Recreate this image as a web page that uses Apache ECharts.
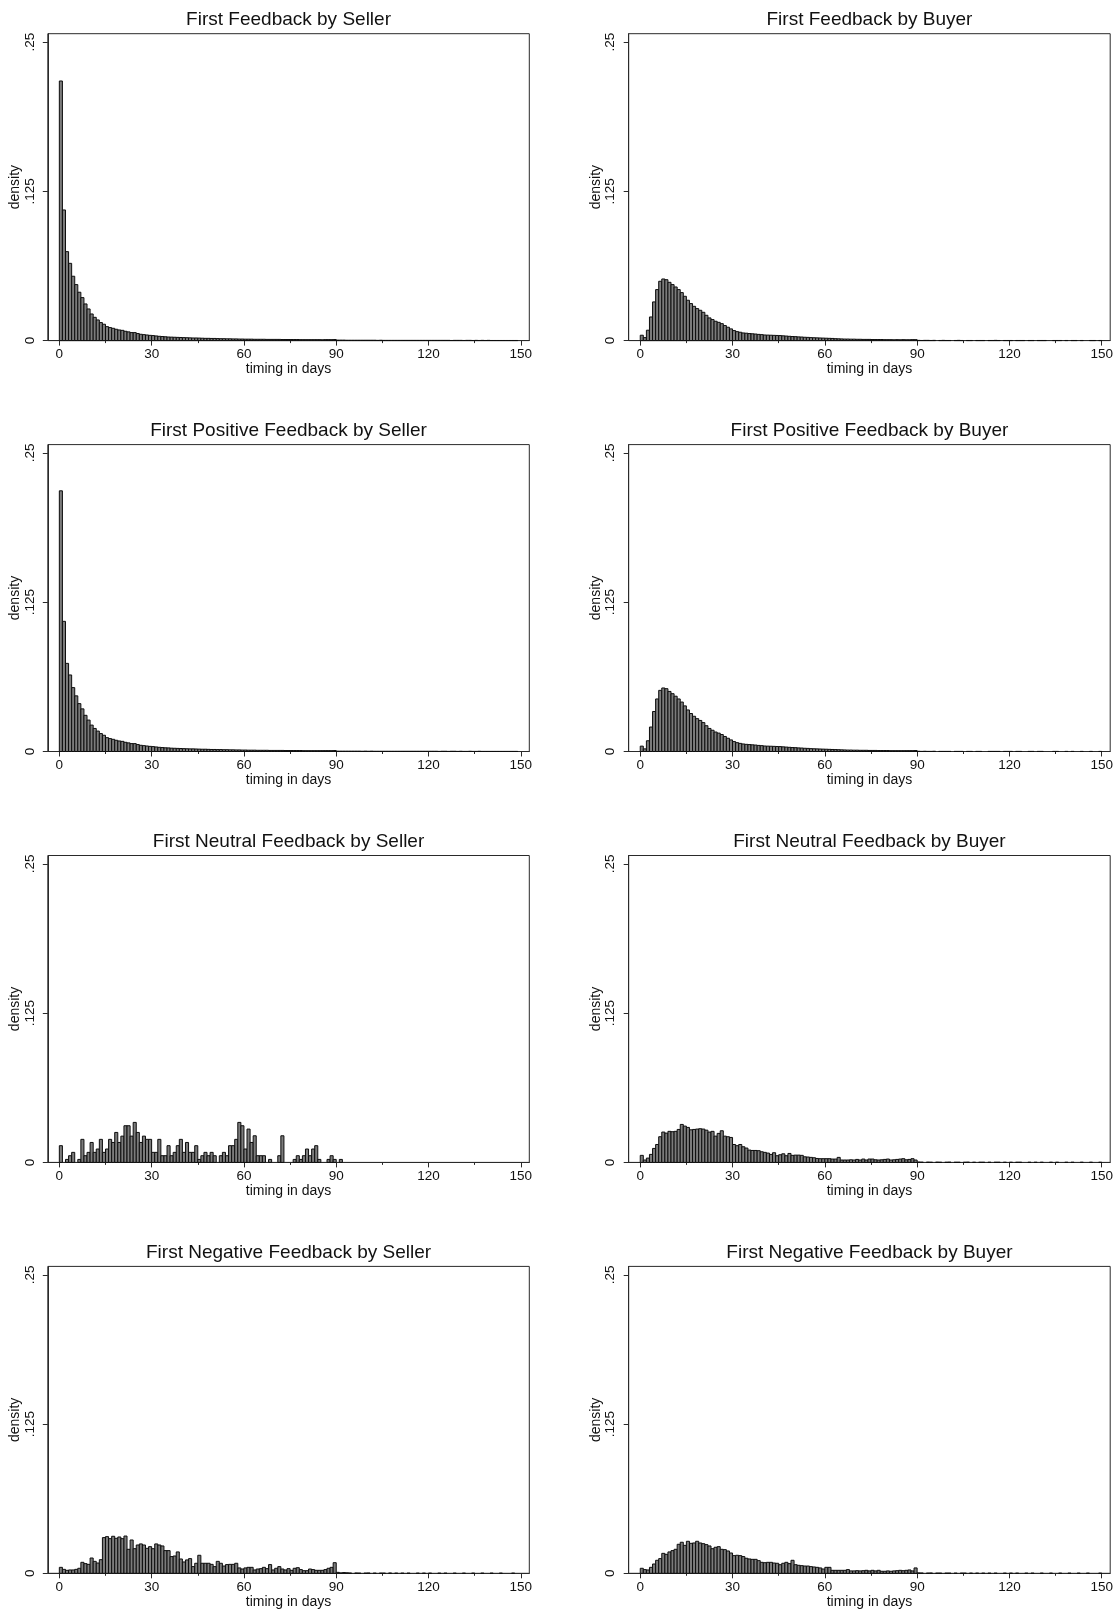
<!DOCTYPE html>
<html>
<head>
<meta charset="utf-8">
<title>Feedback timing histograms</title>
<script src="https://cdn.jsdelivr.net/npm/echarts@6/dist/echarts.min.js"></script>
<style>
  html, body { margin: 0; padding: 0; background: #fff; }
  #main { width: 1118px; height: 1615px; }
</style>
</head>
<body>
<div id="main"></div>
<script>
// density per 1-day bin, index = day
var sellerAll = [
  0.2174, 0.1094, 0.0745, 0.0647, 0.0539, 0.0469, 0.0405, 0.0360, 0.0307, 0.0265,
  0.0223, 0.0195, 0.0173, 0.0151, 0.0137, 0.0117, 0.0109, 0.0103, 0.0095, 0.0089,
  0.0086, 0.0078, 0.0073, 0.0067, 0.0067, 0.0059, 0.0053, 0.0050, 0.0047, 0.0044,
  0.0042, 0.0039, 0.0036, 0.0034, 0.0032, 0.0030, 0.0029, 0.0028, 0.0027, 0.0026,
  0.0025, 0.0024, 0.0023, 0.0022, 0.0022, 0.0021, 0.0020, 0.0019, 0.0019, 0.0018,
  0.0018, 0.0017, 0.0016, 0.0016, 0.0015, 0.0015, 0.0014, 0.0014, 0.0013, 0.0013,
  0.0012, 0.0012, 0.0012, 0.0011, 0.0011, 0.0011, 0.0011, 0.0010, 0.0010, 0.0010,
  0.0010, 0.0010, 0.0009, 0.0009, 0.0009, 0.0009, 0.0009, 0.0009, 0.0008, 0.0008,
  0.0008, 0.0008, 0.0008, 0.0008, 0.0008, 0.0007, 0.0008, 0.0008, 0.0008, 0.0009,
  0.0004, 0.0004, 0.0004, 0.0003, 0.0003, 0.0003, 0.0003, 0.0003, 0.0003, 0.0003,
  0.0003, 0.0003, 0.0003, 0.0002, 0.0003, 0.0002, 0.0002, 0.0002, 0.0002, 0.0002,
  0.0002, 0.0002, 0.0002, 0.0002, 0.0002, 0.0002, 0.0002, 0.0002, 0.0002, 0.0002,
  0.0002, 0.0002, 0.0002, 0.0002, 0.0002, 0.0002, 0.0002, 0.0001, 0.0002, 0.0002,
  0.0002, 0.0001, 0.0002, 0.0002, 0.0001, 0.0002, 0.0001, 0.0002, 0.0001, 0.0002,
  0.0001, 0.0001, 0.0001, 0.0001, 0.0001, 0.0001, 0.0001, 0.0001, 0.0001
];
var buyerAll = [
  0.0045, 0.0025, 0.0087, 0.0198, 0.0324, 0.0427, 0.0497, 0.0516, 0.0510, 0.0488,
  0.0469, 0.0449, 0.0427, 0.0402, 0.0371, 0.0338, 0.0310, 0.0287, 0.0268, 0.0254,
  0.0237, 0.0212, 0.0190, 0.0176, 0.0162, 0.0153, 0.0142, 0.0126, 0.0112, 0.0098,
  0.0084, 0.0075, 0.0070, 0.0064, 0.0062, 0.0059, 0.0057, 0.0055, 0.0052, 0.0050,
  0.0047, 0.0046, 0.0045, 0.0044, 0.0043, 0.0042, 0.0040, 0.0038, 0.0036, 0.0034,
  0.0033, 0.0031, 0.0030, 0.0028, 0.0027, 0.0025, 0.0024, 0.0023, 0.0022, 0.0021,
  0.0020, 0.0019, 0.0018, 0.0016, 0.0015, 0.0014, 0.0013, 0.0013, 0.0012, 0.0012,
  0.0011, 0.0011, 0.0010, 0.0010, 0.0010, 0.0009, 0.0009, 0.0009, 0.0009, 0.0008,
  0.0008, 0.0008, 0.0007, 0.0008, 0.0007, 0.0008, 0.0007, 0.0007, 0.0008, 0.0008,
  0.0002, 0.0001, 0.0002, 0.0002, 0.0001, 0.0002, 0, 0.0001, 0.0002, 0.0001,
  0.0001, 0, 0.0001, 0.0002, 0.0001, 0, 0.0001, 0.0001, 0, 0.0001,
  0.0001, 0.0001, 0, 0.0001, 0.0001, 0.0002, 0.0001, 0, 0.0001, 0.0001,
  0.0001, 0, 0.0001, 0.0001, 0.0001, 0, 0.0001, 0.0001, 0, 0.0001,
  0.0001, 0.0001, 0, 0, 0.0001, 0.0001, 0.0001, 0, 0.0001, 0,
  0.0001, 0.0001, 0, 0.0001, 0, 0, 0.0001, 0.0001, 0, 0.0001
];
var sellerPos = [
  0.2183, 0.1090, 0.0738, 0.0641, 0.0535, 0.0466, 0.0401, 0.0357, 0.0303, 0.0263,
  0.0221, 0.0193, 0.0171, 0.0150, 0.0136, 0.0116, 0.0108, 0.0102, 0.0094, 0.0088,
  0.0085, 0.0077, 0.0072, 0.0066, 0.0066, 0.0058, 0.0052, 0.0049, 0.0046, 0.0043,
  0.0041, 0.0038, 0.0035, 0.0033, 0.0031, 0.0030, 0.0028, 0.0027, 0.0026, 0.0025,
  0.0024, 0.0023, 0.0022, 0.0022, 0.0021, 0.0020, 0.0019, 0.0019, 0.0018, 0.0017,
  0.0017, 0.0016, 0.0016, 0.0015, 0.0015, 0.0014, 0.0014, 0.0013, 0.0013, 0.0012,
  0.0012, 0.0011, 0.0011, 0.0011, 0.0010, 0.0010, 0.0010, 0.0010, 0.0009, 0.0009,
  0.0009, 0.0009, 0.0009, 0.0008, 0.0008, 0.0008, 0.0008, 0.0008, 0.0008, 0.0007,
  0.0007, 0.0007, 0.0007, 0.0007, 0.0007, 0.0007, 0.0007, 0.0007, 0.0007, 0.0008,
  0.0003, 0.0003, 0.0003, 0.0003, 0.0003, 0.0003, 0.0003, 0.0003, 0.0002, 0.0003,
  0.0002, 0.0003, 0.0002, 0.0002, 0.0002, 0.0002, 0.0002, 0.0002, 0.0002, 0.0002,
  0.0002, 0.0002, 0.0002, 0.0002, 0.0002, 0.0002, 0.0002, 0.0002, 0.0002, 0.0002,
  0.0002, 0.0002, 0.0002, 0.0001, 0.0002, 0.0002, 0.0001, 0.0002, 0.0002, 0.0001,
  0.0002, 0.0001, 0.0001, 0.0002, 0.0001, 0.0001, 0.0002, 0.0001, 0.0001, 0.0001,
  0.0001, 0.0001, 0.0001, 0.0001, 0.0001, 0.0001, 0.0001, 0.0001, 0.0001
];
var buyerPos = [
  0.0045, 0.0022, 0.0090, 0.0205, 0.0335, 0.0440, 0.0512, 0.0532, 0.0526, 0.0503,
  0.0484, 0.0463, 0.0440, 0.0414, 0.0382, 0.0348, 0.0318, 0.0295, 0.0275, 0.0260,
  0.0242, 0.0216, 0.0193, 0.0178, 0.0163, 0.0154, 0.0142, 0.0126, 0.0111, 0.0097,
  0.0083, 0.0074, 0.0068, 0.0063, 0.0060, 0.0058, 0.0056, 0.0054, 0.0051, 0.0049,
  0.0046, 0.0045, 0.0044, 0.0043, 0.0042, 0.0041, 0.0039, 0.0037, 0.0035, 0.0033,
  0.0032, 0.0030, 0.0029, 0.0027, 0.0026, 0.0024, 0.0023, 0.0022, 0.0021, 0.0020,
  0.0019, 0.0018, 0.0017, 0.0016, 0.0015, 0.0014, 0.0013, 0.0012, 0.0012, 0.0011,
  0.0011, 0.0010, 0.0010, 0.0010, 0.0009, 0.0009, 0.0009, 0.0008, 0.0008, 0.0008,
  0.0008, 0.0007, 0.0007, 0.0007, 0.0007, 0.0007, 0.0007, 0.0007, 0.0007, 0.0008,
  0.0002, 0.0001, 0.0002, 0.0001, 0.0001, 0.0002, 0, 0.0001, 0.0001, 0.0001,
  0.0001, 0, 0.0001, 0.0001, 0.0001, 0, 0.0001, 0.0001, 0, 0.0001,
  0.0001, 0, 0, 0.0001, 0.0001, 0.0001, 0.0001, 0, 0.0001, 0.0001,
  0.0001, 0, 0.0001, 0.0001, 0, 0, 0.0001, 0.0001, 0, 0.0001,
  0.0001, 0, 0, 0, 0.0001, 0.0001, 0, 0, 0.0001, 0,
  0.0001, 0, 0, 0.0001, 0, 0, 0.0001, 0, 0, 0.0001
];
var sellerNeu = [
  0.0140, 0, 0.0025, 0.0056, 0.0084, 0, 0.0025, 0.0193, 0.0056, 0.0084,
  0.0167, 0.0084, 0.0112, 0.0193, 0.0084, 0.0112, 0.0193, 0.0167, 0.0251, 0.0167,
  0.0220, 0.0307, 0.0307, 0.0220, 0.0335, 0.0251, 0.0167, 0.0220, 0.0193, 0.0193,
  0.0084, 0.0084, 0.0193, 0.0056, 0.0056, 0.0140, 0.0056, 0.0084, 0.0140, 0.0193,
  0.0084, 0.0167, 0.0084, 0.0084, 0.0140, 0.0025, 0.0056, 0.0084, 0.0056, 0.0084,
  0.0056, 0, 0.0056, 0.0084, 0.0056, 0.0140, 0.0140, 0.0193, 0.0335, 0.0307,
  0.0112, 0.0279, 0.0167, 0.0223, 0.0056, 0.0056, 0.0056, 0, 0.0025, 0,
  0, 0.0056, 0.0223, 0, 0, 0, 0.0025, 0.0056, 0.0025, 0.0056,
  0.0112, 0.0056, 0.0112, 0.0140, 0.0025, 0, 0, 0.0025, 0.0056, 0.0025,
  0, 0.0025
];
var buyerNeu = [
  0.0059, 0.0020, 0.0036, 0.0067, 0.0117, 0.0150, 0.0215, 0.0254, 0.0245, 0.0260,
  0.0257, 0.0260, 0.0276, 0.0318, 0.0304, 0.0293, 0.0273, 0.0276, 0.0279, 0.0282,
  0.0279, 0.0270, 0.0254, 0.0260, 0.0220, 0.0243, 0.0265, 0.0220, 0.0215, 0.0209,
  0.0150, 0.0140, 0.0150, 0.0131, 0.0120, 0.0103, 0.0100, 0.0100, 0.0098, 0.0089,
  0.0084, 0.0078, 0.0067, 0.0081, 0.0056, 0.0064, 0.0072, 0.0056, 0.0075, 0.0059,
  0.0061, 0.0061, 0.0059, 0.0047, 0.0045, 0.0042, 0.0039, 0.0033, 0.0031, 0.0031,
  0.0031, 0.0031, 0.0028, 0.0028, 0.0042, 0.0020, 0.0020, 0.0020, 0.0022, 0.0020,
  0.0025, 0.0020, 0.0028, 0.0020, 0.0028, 0.0028, 0.0022, 0.0020, 0.0022, 0.0025,
  0.0028, 0.0020, 0.0022, 0.0025, 0.0028, 0.0031, 0.0022, 0.0025, 0.0031, 0.0020,
  0.0003, 0.0002, 0, 0.0002, 0.0001, 0, 0.0002, 0.0001, 0, 0.0001,
  0.0002, 0, 0.0001, 0.0001, 0, 0.0001, 0.0002, 0, 0.0001, 0,
  0.0001, 0.0001, 0, 0.0001, 0, 0.0001, 0.0001, 0, 0.0001, 0,
  0.0001, 0, 0.0001, 0.0001, 0, 0, 0.0001, 0, 0.0001, 0,
  0.0001, 0, 0, 0.0001, 0, 0.0001, 0, 0, 0.0001, 0,
  0.0001, 0, 0, 0.0001, 0, 0, 0.0001, 0, 0, 0.0001
];
var sellerNeg = [
  0.0050, 0.0033, 0.0025, 0.0028, 0.0028, 0.0033, 0.0042, 0.0092, 0.0081, 0.0075,
  0.0128, 0.0100, 0.0086, 0.0114, 0.0299, 0.0307, 0.0290, 0.0310, 0.0293, 0.0304,
  0.0290, 0.0312, 0.0201, 0.0279, 0.0206, 0.0237, 0.0246, 0.0237, 0.0209, 0.0223,
  0.0206, 0.0246, 0.0237, 0.0229, 0.0190, 0.0190, 0.0140, 0.0145, 0.0179, 0.0120,
  0.0095, 0.0112, 0.0123, 0.0056, 0.0084, 0.0151, 0.0084, 0.0084, 0.0084, 0.0075,
  0.0056, 0.0100, 0.0084, 0.0061, 0.0073, 0.0075, 0.0075, 0.0084, 0.0045, 0.0036,
  0.0045, 0.0050, 0.0050, 0.0028, 0.0036, 0.0039, 0.0050, 0.0039, 0.0073, 0.0028,
  0.0042, 0.0056, 0.0036, 0.0028, 0.0039, 0.0025, 0.0042, 0.0047, 0.0031, 0.0022,
  0.0022, 0.0036, 0.0031, 0.0025, 0.0025, 0.0025, 0.0031, 0.0042, 0.0050, 0.0089,
  0.0008, 0.0003, 0.0006, 0.0004, 0.0002, 0, 0.0002, 0.0001, 0, 0.0001,
  0.0002, 0, 0.0001, 0, 0.0001, 0.0001, 0, 0.0002, 0, 0.0001,
  0, 0.0001, 0, 0.0001, 0, 0, 0.0001, 0, 0.0001, 0,
  0.0001, 0, 0, 0.0001, 0, 0.0001, 0, 0, 0.0001, 0,
  0, 0.0001, 0, 0, 0.0001, 0, 0, 0.0001, 0, 0,
  0.0001, 0, 0, 0.0001, 0, 0, 0, 0.0001, 0, 0
];
var buyerNeg = [
  0.0042, 0.0031, 0.0028, 0.0050, 0.0078, 0.0109, 0.0123, 0.0167, 0.0159, 0.0179,
  0.0190, 0.0201, 0.0243, 0.0260, 0.0234, 0.0268, 0.0251, 0.0254, 0.0268, 0.0254,
  0.0248, 0.0240, 0.0229, 0.0206, 0.0218, 0.0223, 0.0201, 0.0198, 0.0187, 0.0170,
  0.0148, 0.0151, 0.0148, 0.0140, 0.0126, 0.0120, 0.0117, 0.0117, 0.0106, 0.0092,
  0.0089, 0.0092, 0.0092, 0.0086, 0.0084, 0.0072, 0.0084, 0.0092, 0.0081, 0.0109,
  0.0072, 0.0067, 0.0064, 0.0061, 0.0061, 0.0056, 0.0053, 0.0050, 0.0045, 0.0036,
  0.0050, 0.0050, 0.0025, 0.0025, 0.0025, 0.0025, 0.0025, 0.0031, 0.0020, 0.0020,
  0.0022, 0.0020, 0.0022, 0.0025, 0.0020, 0.0025, 0.0020, 0.0025, 0.0017, 0.0017,
  0.0020, 0.0017, 0.0020, 0.0022, 0.0025, 0.0022, 0.0025, 0.0028, 0.0020, 0.0045,
  0.0003, 0.0002, 0, 0.0001, 0.0002, 0, 0.0001, 0.0001, 0, 0.0001,
  0.0001, 0, 0.0001, 0, 0.0001, 0.0001, 0, 0.0001, 0, 0.0001,
  0, 0.0001, 0, 0.0001, 0, 0.0001, 0, 0, 0.0001, 0,
  0.0001, 0, 0.0001, 0, 0, 0.0001, 0, 0.0001, 0, 0,
  0.0001, 0, 0, 0.0001, 0, 0, 0.0001, 0, 0, 0.0001,
  0, 0, 0.0001, 0, 0, 0.0001, 0, 0, 0, 0.0001
];

var titles = [
  'First Feedback by Seller', 'First Feedback by Buyer',
  'First Positive Feedback by Seller', 'First Positive Feedback by Buyer',
  'First Neutral Feedback by Seller', 'First Neutral Feedback by Buyer',
  'First Negative Feedback by Seller', 'First Negative Feedback by Buyer'
];
var panelData = [sellerAll, buyerAll, sellerPos, buyerPos, sellerNeu, buyerNeu, sellerNeg, buyerNeg];

var xMajorTicks = [0, 30, 60, 90, 120, 150];
var xMinorTicks = [15, 45, 75, 105, 135];
var yTicks = [0, 0.125, 0.25];

var FONT = '"Liberation Sans", Arial, Helvetica, sans-serif';
var INK = '#111';
var FRAME = '#2a2a2a';

// panel frames (px)
var COL_LEFT = [47.8, 628.7];
var ROW_BOTTOM = [340.6, 751.5, 1162.4, 1573.3];
var PLOT_W = 481.5;
var PLOT_H = 306.9;
var X_MIN = -3.75, X_MAX = 152.75;
var Y_MAX = 0.257;

function renderBin(params, api) {
  var v = api.value(1);
  if (!v) return;
  var d = api.value(0);
  var p0 = api.coord([d, v]);
  var p1 = api.coord([d + 1, 0]);
  return {
    type: 'rect',
    shape: { x: p0[0], y: p0[1], width: p1[0] - p0[0], height: p1[1] - p0[1] },
    style: { fill: '#7c7c7c', stroke: '#0d0d0d', lineWidth: 1 }
  };
}

var grid = [], xAxis = [], yAxis = [], series = [], graphic = [];

panelData.forEach(function (arr, i) {
  var col = i % 2, row = Math.floor(i / 2);
  var left = COL_LEFT[col];
  var top = ROW_BOTTOM[row] - PLOT_H;

  grid.push({
    left: left, top: top, width: PLOT_W, height: PLOT_H,
    show: true, borderColor: FRAME, borderWidth: 1
  });

  xAxis.push({
    gridIndex: i, type: 'value', position: 'bottom',
    min: X_MIN, max: X_MAX,
    name: 'timing in days', nameLocation: 'middle', nameGap: 22,
    nameTextStyle: { fontFamily: FONT, fontSize: 14, color: INK },
    axisLine: { show: true, onZero: false, lineStyle: { color: FRAME, width: 1 } },
    axisTick: { show: true, customValues: xMajorTicks, length: 5, lineStyle: { color: FRAME } },
    axisLabel: { customValues: xMajorTicks, margin: 7, fontFamily: FONT, fontSize: 13.5, color: INK },
    splitLine: { show: false }
  });
  // minor ticks at 15-day steps
  xAxis.push({
    gridIndex: i, type: 'value', position: 'bottom',
    min: X_MIN, max: X_MAX,
    axisLine: { show: false, onZero: false },
    axisTick: { show: true, customValues: xMinorTicks, length: 2.5, lineStyle: { color: FRAME } },
    axisLabel: { show: false },
    splitLine: { show: false }
  });

  yAxis.push({
    gridIndex: i, type: 'value', min: 0, max: Y_MAX,
    name: 'density', nameLocation: 'middle', nameGap: 22, nameRotate: 90,
    nameTextStyle: { fontFamily: FONT, fontSize: 14, color: INK },
    axisLine: { show: true, onZero: false, lineStyle: { color: FRAME, width: 1 } },
    axisTick: { show: true, customValues: yTicks, length: 5, lineStyle: { color: FRAME } },
    axisLabel: {
      customValues: yTicks, rotate: 90, margin: 11,
      fontFamily: FONT, fontSize: 13.5, color: INK,
      formatter: function (v) { return v === 0 ? '0' : String(v).replace(/^0/, ''); }
    },
    splitLine: { show: false }
  });

  series.push({
    type: 'custom',
    xAxisIndex: 2 * i, yAxisIndex: i,
    renderItem: renderBin,
    data: arr.map(function (v, d) { return [d, v]; }),
    silent: true
  });

  graphic.push({
    type: 'text',
    x: left + PLOT_W / 2, y: top - 13.7,
    style: {
      text: titles[i], fontFamily: FONT, fontSize: 19, fill: INK,
      align: 'center', verticalAlign: 'middle'
    }
  });
});

var chart = echarts.init(document.getElementById('main'), null, { renderer: 'canvas' });
chart.setOption({
  animation: false,
  backgroundColor: '#fff',
  grid: grid,
  xAxis: xAxis,
  yAxis: yAxis,
  series: series,
  graphic: graphic
});
</script>
</body>
</html>
